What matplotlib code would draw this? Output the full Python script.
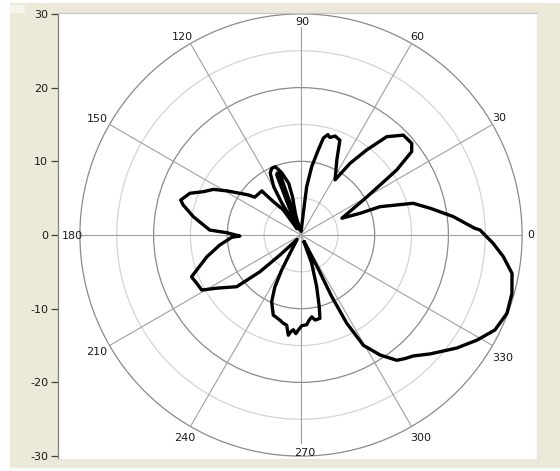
import numpy as np
import matplotlib
matplotlib.use("Agg")
import matplotlib.pyplot as plt
from matplotlib.patches import Rectangle, Circle

plt.rcParams['font.family'] = ['DejaVu Sans']
plt.rcParams['axes.unicode_minus'] = False

# ---- data (polar pattern, degrees and radius) ----
angles_deg = [296, 297, 296.5, 297.4, 299.5, 303.4, 307.4, 310, 312.9, 317.3, 324, 329.1,
              333.9, 339.2, 344.5, 349.7, 353.9, 357.5, 1.6, 2.2, 6.9, 11.7, 15.8, 19.7,
              20.2, 22.3, 29.3, 32.3, 34.2, 37.0, 39.6, 44.3, 48.9, 52.3, 55.6, 58.3,
              64.5, 67.7, 71.0, 73.5, 75.0, 77.0, 78.5, 81.1, 83.3, 84.0, 88,
              108.6, 109, 111, 112, 114, 105, 104.7, 102.5, 103.4, 107.1, 110.6, 113.5,
              116.4, 119.5, 121, 121, 122,
              125.3, 129.7, 131.3, 131.6, 140.7, 142.8, 145.6, 149.2, 152.5, 156.1, 159.4,
              163.8, 165.7, 170.4, 176.9, 178.2, 181.0, 181.9, 187, 193, 198.5, 200.9,
              204.8, 209, 212.3, 218.8, 221.8, 223.6, 228,
              239, 241.1, 243.3, 246.3, 250.9, 256.1, 258.5, 261, 262.8, 264, 265.4, 267,
              268.4, 270.5, 273.6, 275.5, 277.5, 279.4, 282.8, 284.3, 286.9, 290.7, 293, 296]
radii = [1.0, 5.0, 9.3, 13.5, 17.2, 19.5, 21.4, 21.9, 22.4, 23.8, 26.1, 27.8,
         29.3, 29.9, 29.7, 29.1, 27.6, 26.1, 24.3, 23.6, 20.8, 17.9, 15.8, 11.4,
         8.5, 6.0, 9.7, 12.7, 15.7, 18.8, 19.5, 19.4, 17.7, 14.6, 11.8, 8.8,
         11.3, 13.9, 14.2, 13.8, 14.1, 13.5, 11.8, 9.4, 6.6, 3.0, 0.5,
         3.1, 8.6, 9.0, 8.8, 3.0, 0.8, 3.0, 5.3, 7.2, 8.8, 9.9, 9.9,
         9.4, 7.5, 5.0, 2.4, 1.0,
         4.2, 5.9, 7.4, 8.0, 8.1, 9.0, 10.0, 11.7, 13.4, 14.5, 16.1,
         17.0, 16.5, 14.8, 12.4, 10.1, 8.3, 9.4, 11.1, 13.1, 14.9, 15.9,
         15.6, 15.4, 13.5, 11.2, 7.5, 3.9, 0.8,
         2.9, 5.4, 7.9, 9.9, 11.5, 11.9, 12.2, 12.4, 13.7, 13.2, 12.9, 13.4,
         12.9, 12.3, 12.2, 11.6, 11.2, 11.7, 11.6, 10.0, 7.3, 4.1, 1.0, 1.0]

grid_radii = [5, 10, 15, 20, 25, 30]
spoke_angles = [0, 30, 60, 90, 120, 150, 180, 210, 240, 270, 300, 330]
angle_labels = ['0', '30', '60', '90', '120', '150', '180', '210', '240', '270', '300', '330']
y_ticks = [-30, -20, -10, 0, 10, 20, 30]

W, H = 560, 471
fig = plt.figure(figsize=(W / 100, H / 100), dpi=100)
fig.patch.set_facecolor('white')
# beige panel
fig.patches.append(Rectangle((10 / W, 3 / H), 1, 1 - 6 / H, transform=fig.transFigure,
                             facecolor='#ECE9D8', edgecolor='none', zorder=-10))
fig.patches.append(Rectangle((10 / W, 1 - 13 / H), 15 / W, 8 / H, transform=fig.transFigure,
                             facecolor='#F5F4EE', edgecolor='none', zorder=-9))

px = 7.37  # pixels per data unit
cx, cy = 301, 235
left, right, top, bottom = 58, 537, 13, 459
ax = fig.add_axes([left / W, 1 - bottom / H, (right - left) / W, (bottom - top) / H])
ax.set_zorder(1)
ax.set_facecolor('white')
ax.set_xlim((left - cx) / px, (right - cx) / px)
ax.set_ylim(-(bottom - cy) / px, (cy - top) / px)

# grid circles
for r in grid_radii:
    col = '#8a8a8a' if r % 10 == 0 else '#d4d4d4'
    ax.add_patch(Circle((0, 0), r, fill=False, edgecolor=col, linewidth=0.9, zorder=1))

# spokes
for a in spoke_angles:
    rmax = 28.2 if a in (90, 270) else 30
    t = np.deg2rad(a)
    ax.plot([0, rmax * np.cos(t)], [0, rmax * np.sin(t)], color='#a0a0a0', lw=0.8, zorder=1)

# angle labels
lab_cfg = {
    0: ('left', 'center', 5, 0),
    30: ('left', 'bottom', 0, 1),
    60: ('left', 'bottom', -1, 2),
    90: ('center', 'top', 1, -3),
    120: ('right', 'bottom', 3, 2),
    150: ('right', 'bottom', -2, 0),
    180: ('right', 'center', 3, -1),
    210: ('right', 'top', -2, -1),
    240: ('right', 'top', 5, -7),
    270: ('center', 'bottom', 4, -2),
    300: ('left', 'top', -1, -7),
    330: ('left', 'top', 0, -7),
}
for a, lab in zip(spoke_angles, angle_labels):
    ha, va, dx, dy = lab_cfg[a]
    t = np.deg2rad(a)
    ax.annotate(lab, (30 * np.cos(t), 30 * np.sin(t)), xytext=(dx * 0.72, dy * 0.72),
                textcoords='offset points', ha=ha, va=va, fontsize=8, color='#1a1a1a', zorder=3)

# the pattern curve
th = np.deg2rad(np.array(angles_deg))
rr = np.array(radii)
ax.plot(rr * np.cos(th), rr * np.sin(th), color='black', lw=2.4,
        solid_joinstyle='round', solid_capstyle='round', zorder=4)

ax.set_xticks([])
ax.set_yticks(y_ticks)
ax.set_yticklabels([str(v) for v in y_ticks])
ax.tick_params(axis='y', direction='out', length=5, width=0.9, color='#404040',
               labelsize=8, labelcolor='#1a1a1a', pad=2)
ax.spines['left'].set_color('#808080')
ax.spines['top'].set_color('#c8c8c8')
ax.spines['right'].set_color('#e4e4e4')
ax.spines['bottom'].set_color('#e4e4e4')
for s in ax.spines.values():
    s.set_linewidth(0.9)

fig.savefig('out.png', dpi=100, facecolor=fig.get_facecolor())
